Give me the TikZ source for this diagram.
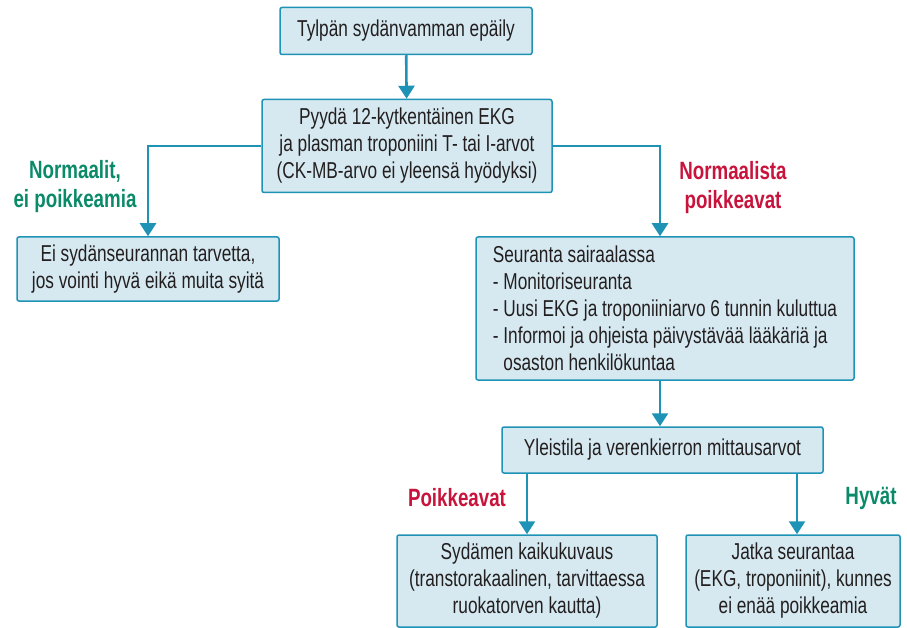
\documentclass[tikz,border=0pt]{standalone}
\usepackage{fontspec}
\setmainfont{Liberation Sans}[FakeStretch=0.75]
\usetikzlibrary{arrows.meta}
\definecolor{boxfill}{HTML}{D6E9F1}
\definecolor{boxline}{HTML}{1E93B5}
\definecolor{okgreen}{HTML}{0B8A6A}
\definecolor{badred}{HTML}{C8143C}
\definecolor{txt}{HTML}{231F20}

\begin{document}
\begin{tikzpicture}[x=1pt, y=-1pt,
	every node/.style={font=\fontsize{23}{27}\selectfont, text=txt},
	box/.style={draw=boxline, fill=boxfill, line width=1.5pt, rounded corners=2pt, align=center, inner xsep=6pt, inner ysep=0pt},
	arr/.style={draw=boxline, line width=2.6pt, -{Triangle[width=16pt, length=13pt]}},
	lbl/.style={font=\fontsize{25}{29}\selectfont\bfseries, align=center}]

\useasboundingbox (0,0) rectangle (907,628);

% Boxes
\node[box, minimum width=252pt, minimum height=47pt] (start) at (406,31) {Tylpän sydänvamman epäily};
\node[box, minimum width=290pt, minimum height=93pt] (tests) at (407,146) {Pyydä 12-kytkentäinen EKG\\ja plasman troponiini T- tai I-arvot\\(CK-MB-arvo ei yleensä hyödyksi)};
\node[box, minimum width=262pt, minimum height=64pt] (normal) at (148,269) {Ei sydänseurannan tarvetta,\\jos vointi hyvä eikä muita syitä};
\node[box, minimum width=378pt, minimum height=143pt, align=left] (ward) at (665,308.5) {Seuranta sairaalassa\\- Monitoriseuranta\\- Uusi EKG ja troponiiniarvo 6 tunnin kuluttua\\- Informoi ja ohjeista päivystävää lääkäriä ja\\\phantom{- }osaston henkilökuntaa};
\node[box, minimum width=321pt, minimum height=46pt] (status) at (662.5,450) {Yleistila ja verenkierron mittausarvot};
\node[box, minimum width=260pt, minimum height=92pt] (echo) at (527,581) {Sydämen kaikukuvaus\\(transtorakaalinen, tarvittaessa\\ruokatorven kautta)};
\node[box, minimum width=214pt, minimum height=92pt] (cont) at (793,581) {Jatka seurantaa\\(EKG, troponiinit), kunnes\\ei enää poikkeamia};

% Branch labels
\node[lbl, text=okgreen] (lnormal) at (75,187) {Normaalit,\\ei poikkeamia};
\node[lbl, text=badred] (labnormal) at (733,188) {Normaalista\\poikkeavat};
\node[lbl, text=badred] (lbad) at (457,498) {Poikkeavat};
\node[lbl, text=okgreen] (lgood) at (871,498) {Hyvät};

% Connections
\draw[arr] (start) -- (tests);
\draw[arr] (tests.west) -| (normal.north);
\draw[arr] (tests.east) -| ([xshift=-5pt]ward.north);
\draw[arr] (ward.south -| 660,0) -- (status.north -| 660,0);
\draw[arr] (status.south -| echo.north) -- (echo.north);
\draw[arr] (status.south -| 797,0) -- (cont.north -| 797,0);
\end{tikzpicture}
\end{document}
